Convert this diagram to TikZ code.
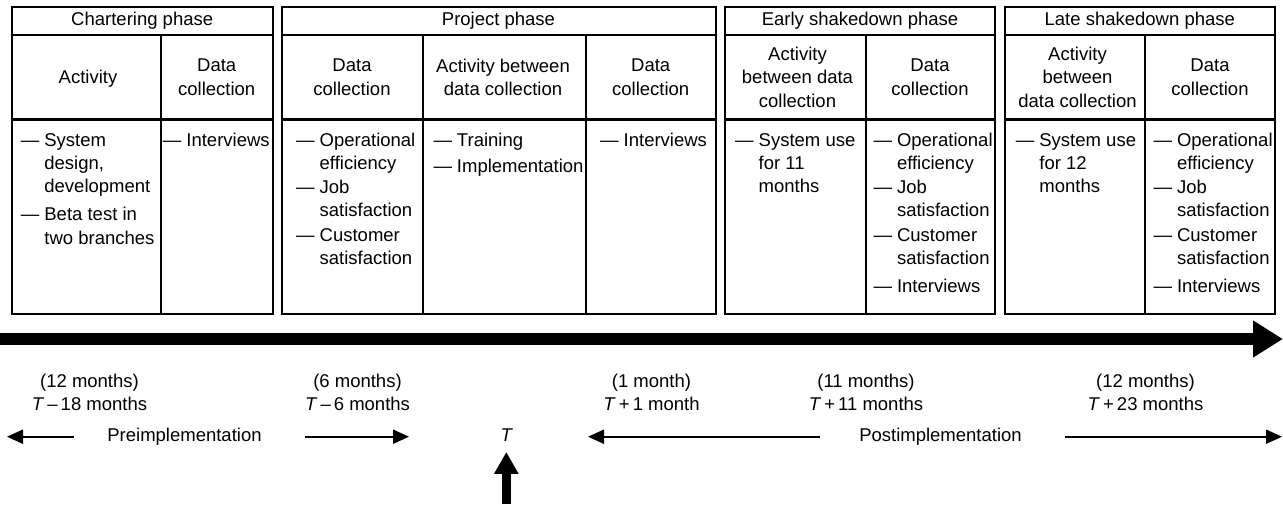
\documentclass[tikz,border=0pt]{standalone}
\usepackage{fontspec}
\setmainfont{Liberation Sans}
\usetikzlibrary{arrows.meta}

\begin{document}
\begin{tikzpicture}[x=1pt,y=-1pt,
		frame/.style={line width=2.4pt},
		lbl/.style={inner sep=0pt,align=center,font=\fontsize{18.5}{23.3}\selectfont},
		items/.style={inner sep=0pt,anchor=base west,font=\fontsize{18.5}{23.3}\selectfont},
		thin/.style={line width=2pt,-{Triangle[length=16pt,width=14pt]}},
		timeline/.style={line width=12pt,-{Triangle[length=30pt,width=35pt]}},
		nowarrow/.style={line width=9pt,-{Triangle[length=22pt,width=23pt]}}]
		\useasboundingbox (0,0) rectangle (1283,504);
		%Chartering phase
		\draw[frame] (11.7,7) rectangle (272.7,314);
		\draw[frame] (11.7,35) -- (272.7,35);
		\draw[frame] (11.7,119.5) -- (272.7,119.5);
		\draw[frame] (160.7,35) -- (160.7,314);
		\node[lbl] (charter) at (142.2,21) {Chartering phase};
		\node[lbl] (charterAct) at (88,78.5) {Activity};
		\node[lbl] (charterData) at (216.7,77.3) {Data\\collection};
		\node[items] (charterActList) at (20.7,146) {\begin{tabular}[t]{@{}l@{\hspace{5pt}}l@{}}
			\textemdash & System\\ & design,\\ & development\\[5pt]
			\textemdash & Beta test in\\ & two branches\end{tabular}};
		\node[items] (charterDataList) at (162.7,146) {\begin{tabular}[t]{@{}l@{\hspace{5pt}}l@{}}
			\textemdash & Interviews\end{tabular}};
		%Project phase
		\draw[frame] (281.7,7) rectangle (716,314);
		\draw[frame] (281.7,35) -- (716,35);
		\draw[frame] (281.7,119.5) -- (716,119.5);
		\draw[frame] (423,35) -- (423,314);
		\draw[frame] (585.7,35) -- (585.7,314);
		\node[lbl] (project) at (498.5,21) {Project phase};
		\node[lbl] (projData1) at (352,77.3) {Data\\collection};
		\node[lbl] (projAct) at (503,77.3) {Activity between\\data collection};
		\node[lbl] (projData2) at (650.7,77.3) {Data\\collection};
		\node[items] (projData1List) at (296,146) {\begin{tabular}[t]{@{}l@{\hspace{5pt}}l@{}}
			\textemdash & Operational\\ & efficiency\\[1pt]
			\textemdash & Job\\ & satisfaction\\[1pt]
			\textemdash & Customer\\ & satisfaction\end{tabular}};
		\node[items] (projActList) at (433.3,146) {\begin{tabular}[t]{@{}l@{\hspace{5pt}}l@{}}
			\textemdash & Training\\[2.7pt]
			\textemdash & Implementation\end{tabular}};
		\node[items] (projData2List) at (600,146) {\begin{tabular}[t]{@{}l@{\hspace{5pt}}l@{}}
			\textemdash & Interviews\end{tabular}};
		%Early shakedown phase
		\draw[frame] (725,7) rectangle (995,314);
		\draw[frame] (725,35) -- (995,35);
		\draw[frame] (725,119.5) -- (995,119.5);
		\draw[frame] (865.7,35) -- (865.7,314);
		\node[lbl] (early) at (860,21) {Early shakedown phase};
		\node[lbl] (earlyAct) at (797.5,77.3) {Activity\\between data\\collection};
		\node[lbl] (earlyData) at (930,77.3) {Data\\collection};
		\node[items] (earlyActList) at (735,146) {\begin{tabular}[t]{@{}l@{\hspace{5pt}}l@{}}
			\textemdash & System use\\ & for 11\\ & months\end{tabular}};
		\node[items] (earlyDataList) at (873.3,146) {\begin{tabular}[t]{@{}l@{\hspace{5pt}}l@{}}
			\textemdash & Operational\\ & efficiency\\[1pt]
			\textemdash & Job\\ & satisfaction\\[1pt]
			\textemdash & Customer\\ & satisfaction\\[5pt]
			\textemdash & Interviews\end{tabular}};
		%Late shakedown phase
		\draw[frame] (1004.7,7) rectangle (1275,314);
		\draw[frame] (1004.7,35) -- (1275,35);
		\draw[frame] (1004.7,119.5) -- (1275,119.5);
		\draw[frame] (1144.7,35) -- (1144.7,314);
		\node[lbl] (late) at (1139.8,21) {Late shakedown phase};
		\node[lbl] (lateAct) at (1077.5,77.3) {Activity\\between\\data collection};
		\node[lbl] (lateData) at (1210,77.3) {Data\\collection};
		\node[items] (lateActList) at (1015.7,146) {\begin{tabular}[t]{@{}l@{\hspace{5pt}}l@{}}
			\textemdash & System use\\ & for 12\\ & months\end{tabular}};
		\node[items] (lateDataList) at (1153.3,146) {\begin{tabular}[t]{@{}l@{\hspace{5pt}}l@{}}
			\textemdash & Operational\\ & efficiency\\[1pt]
			\textemdash & Job\\ & satisfaction\\[1pt]
			\textemdash & Customer\\ & satisfaction\\[5pt]
			\textemdash & Interviews\end{tabular}};
		%Ligne du temps
		\coordinate (tlStart) at (0,339);
		\coordinate (tlEnd) at (1283,339);
		\draw[timeline] (tlStart) -- (tlEnd);
		%Durées
		\node[lbl] (m1) at (89.5,392.5) {(12 months)\\\textit{T}\,–\,18 months};
		\node[lbl] (m2) at (357.5,392.5) {(6 months)\\\textit{T}\,–\,6 months};
		\node[lbl] (m3) at (651.5,392.5) {(1 month)\\\textit{T}\,+\,1 month};
		\node[lbl] (m4) at (866,392.5) {(11 months)\\\textit{T}\,+\,11 months};
		\node[lbl] (m5) at (1145.5,392.5) {(12 months)\\\textit{T}\,+\,23 months};
		%Pré / post
		\node[lbl,anchor=base] (pre) at (184.5,441.7) {Preimplementation};
		\node[lbl,anchor=base] (Tlab) at (506.7,441.7) {\textit{T}};
		\node[lbl,anchor=base] (post) at (940.5,441.7) {Postimplementation};
		\coordinate (preL) at (7,436.7);
		\coordinate (preLtail) at (74,436.7);
		\coordinate (preRtail) at (305,436.7);
		\coordinate (preR) at (409,436.7);
		\coordinate (postLtail) at (820,436.7);
		\coordinate (postL) at (588,436.7);
		\coordinate (postRtail) at (1065,436.7);
		\coordinate (postR) at (1282,436.7);
		\draw[thin] (preLtail) -- (preL);
		\draw[thin] (preRtail) -- (preR);
		\draw[thin] (postLtail) -- (postL);
		\draw[thin] (postRtail) -- (postR);
		\coordinate (nowFoot) at (506.3,504);
		\draw[nowarrow,shorten >=10pt] (nowFoot) -- (nowFoot |- Tlab.south);
	\end{tikzpicture}
\end{document}
